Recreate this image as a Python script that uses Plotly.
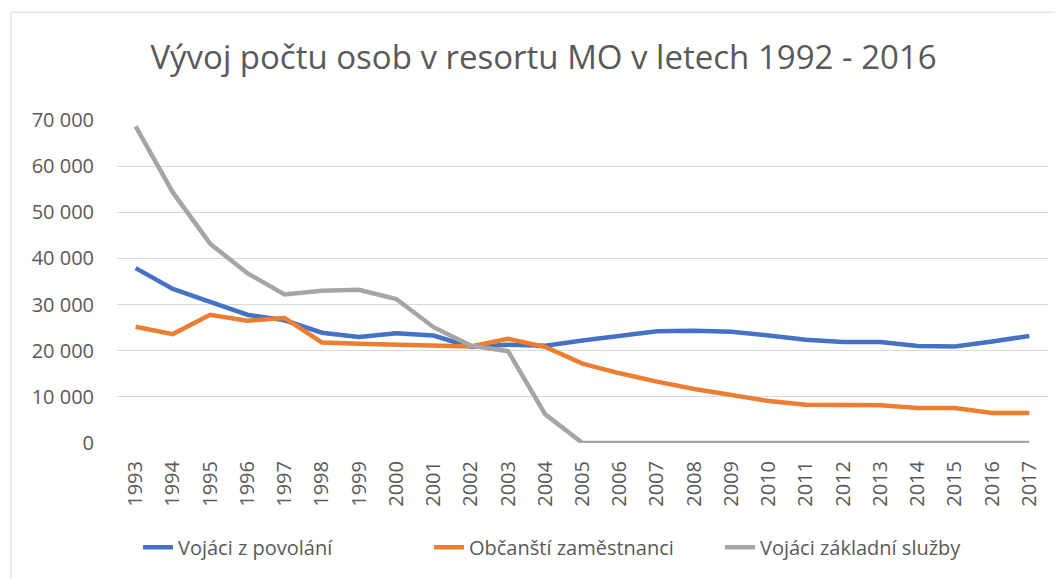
import plotly.graph_objects as go

years = [str(y) for y in range(1993, 2018)]
vojaci_z_povolani = [37900, 33400, 30600, 27800, 26600, 23900, 23000, 23800, 23300, 20800,
                     21300, 21100, 22200, 23100, 24200, 24300, 24100, 23300, 22400, 21900,
                     21900, 21000, 20900, 22000, 23200]
obcansti_zamestnanci = [25200, 23600, 27800, 26500, 27100, 21800, 21500, 21300, 21100, 20900,
                        22600, 20800, 17200, 15100, 13300, 11700, 10400, 9100, 8300, 8200,
                        8200, 7600, 7600, 6500, 6500]
vojaci_zakladni_sluzby = [68600, 54300, 43200, 36800, 32200, 33000, 33200, 31200, 25100, 21100,
                          19900, 6200, 0, 0, 0, 0, 0, 0, 0, 0,
                          0, 0, 0, 0, 0]

series_names = ["Vojáci z povolání", "Občanští zaměstnanci", "Vojáci základní služby"]
series_colors = ["#4472C4", "#ED7D31", "#A5A5A5"]
series_values = [vojaci_z_povolani, obcansti_zamestnanci, vojaci_zakladni_sluzby]

title_text = "Vývoj počtu osob v resortu MO v letech 1992 - 2016"

# page body has an 8px margin; the figure is sized to fill the rest of the window
OFF = 8
W, H = 1063 - OFF, 579 - OFF
# plot area in window pixels: x 117..1048, y 120..443.5
L = 117 - OFF
R = W - (1048 - OFF)
T = 120 - OFF
B = H - (443.5 - OFF)
pw, ph = W - L - R, H - T - B

def px_x(x):  # window px -> paper
    return (x - OFF - L) / pw

def px_y(y):
    return (H - B - (y - OFF)) / ph

fig = go.Figure()
for name, color, vals in zip(series_names, series_colors, series_values):
    fig.add_trace(go.Scatter(
        x=years, y=vals, name=name, mode="lines",
        line=dict(color=color, width=4.5),
        hoverinfo="x+y+name",
    ))

font_main = "Open Sans, Noto Sans, DejaVu Sans, sans-serif"
fig.update_layout(
    width=W, height=H,
    margin=dict(l=L, r=R, t=T, b=B),
    paper_bgcolor="white", plot_bgcolor="white",
    separators=", ",
    font=dict(family=font_main, size=20, color="#595959"),
    title=dict(
        text=title_text,
        font=dict(family=font_main, size=33, color="#595959"),
        x=(543.5 - OFF) / W, xref="container", xanchor="center",
        y=1 - (57 - OFF) / H, yref="container", yanchor="middle",
    ),
    xaxis=dict(
        type="category", range=[-0.5, len(years) - 0.5],
        showgrid=False, showline=False, zeroline=False,
        tickangle=-90, ticks="", ticklabelstandoff=13,
        tickfont=dict(size=20, color="#595959"),
    ),
    yaxis=dict(
        range=[0, 70000], dtick=10000, tickformat=",d",
        showgrid=True, gridcolor="#D9D9D9", gridwidth=1.3,
        zeroline=False, showline=False, ticks="",
        ticklabelstandoff=22,
        tickfont=dict(size=20, color="#595959"),
    ),
    legend=dict(
        orientation="h", x=px_x(138), xanchor="left",
        y=px_y(548), yanchor="middle",
        font=dict(size=20, color="#595959"),
        entrywidth=246, entrywidthmode="pixels",
        itemwidth=30, bgcolor="rgba(0,0,0,0)",
    ),
    shapes=[dict(
        type="rect", xref="paper", yref="paper",
        x0=px_x(11), x1=px_x(1063 + 20), y0=px_y(12), y1=px_y(579 + 20),
        line=dict(color="#D9D9D9", width=1), fillcolor="rgba(0,0,0,0)",
        layer="below",
    )],
)

fig.write_html("out.html")
